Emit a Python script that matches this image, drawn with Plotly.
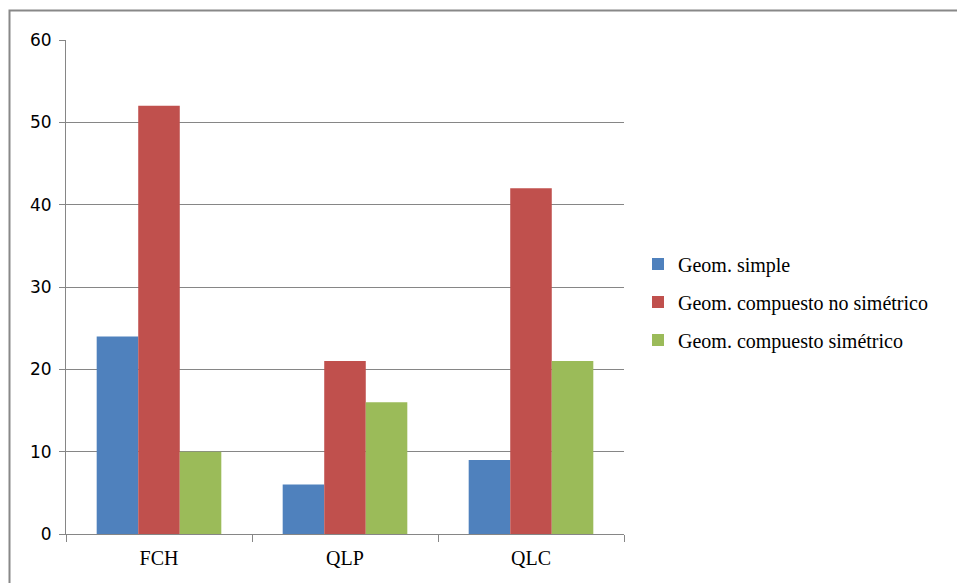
import plotly.graph_objects as go

categories = ["FCH", "QLP", "QLC"]
series_names = ["Geom. simple", "Geom. compuesto no simétrico", "Geom. compuesto simétrico"]
simple = [24, 6, 9]
compuesto_no_sim = [52, 21, 42]
compuesto_sim = [10, 16, 21]
colors = ["#4F81BD", "#C0504D", "#9BBB59"]
y_ticks = [0, 10, 20, 30, 40, 50, 60]

fig = go.Figure()
for i, (name, vals) in enumerate(zip(series_names, [simple, compuesto_no_sim, compuesto_sim])):
    fig.add_trace(go.Bar(x=categories, y=vals, name=name, marker_color=colors[i],
                         marker_line_width=0, legendgroup=str(i)))

L, R, T, B = 66, 333, 40, 49
pw = 957 - L - R
ph = 583 - T - B

fig.update_layout(
    width=957, height=583,
    margin=dict(l=L, r=R, t=T, b=B, pad=0),
    paper_bgcolor="white", plot_bgcolor="white",
    barmode="group", bargap=0.33, bargroupgap=0,
    font=dict(family="Liberation Serif", size=20, color="#000000"),
    legend=dict(x=(638 - L) / pw, y=(534 - 302) / ph, xanchor="left", yanchor="middle",
                font=dict(family="Liberation Serif", size=20), tracegroupgap=9,
                itemwidth=30, bgcolor="rgba(0,0,0,0)"),
    xaxis=dict(showline=True, linecolor="#868686", linewidth=1, ticks="outside",
               tickson="boundaries", ticklen=7, tickcolor="#868686",
               ticklabelstandoff=6,
               tickfont=dict(family="Liberation Serif", size=20), showgrid=False),
    yaxis=dict(range=[0, 60], tickvals=y_ticks, showline=True, linecolor="#868686",
               linewidth=1, ticks="outside", ticklen=6, tickcolor="#868686",
               ticklabelstandoff=4,
               gridcolor="#868686", gridwidth=1, zeroline=False,
               tickfont=dict(family="DejaVu Sans", size=17, color="#000000")),
    shapes=[dict(type="rect", xref="paper", yref="paper",
                 x0=(9.5 - L) / pw, x1=(980 - L) / pw,
                 y0=(534 - 600) / ph, y1=(534 - 10.5) / ph,
                 line=dict(color="#888888", width=2), fillcolor="rgba(0,0,0,0)", layer="below")],
)

fig.write_html("out.html")
